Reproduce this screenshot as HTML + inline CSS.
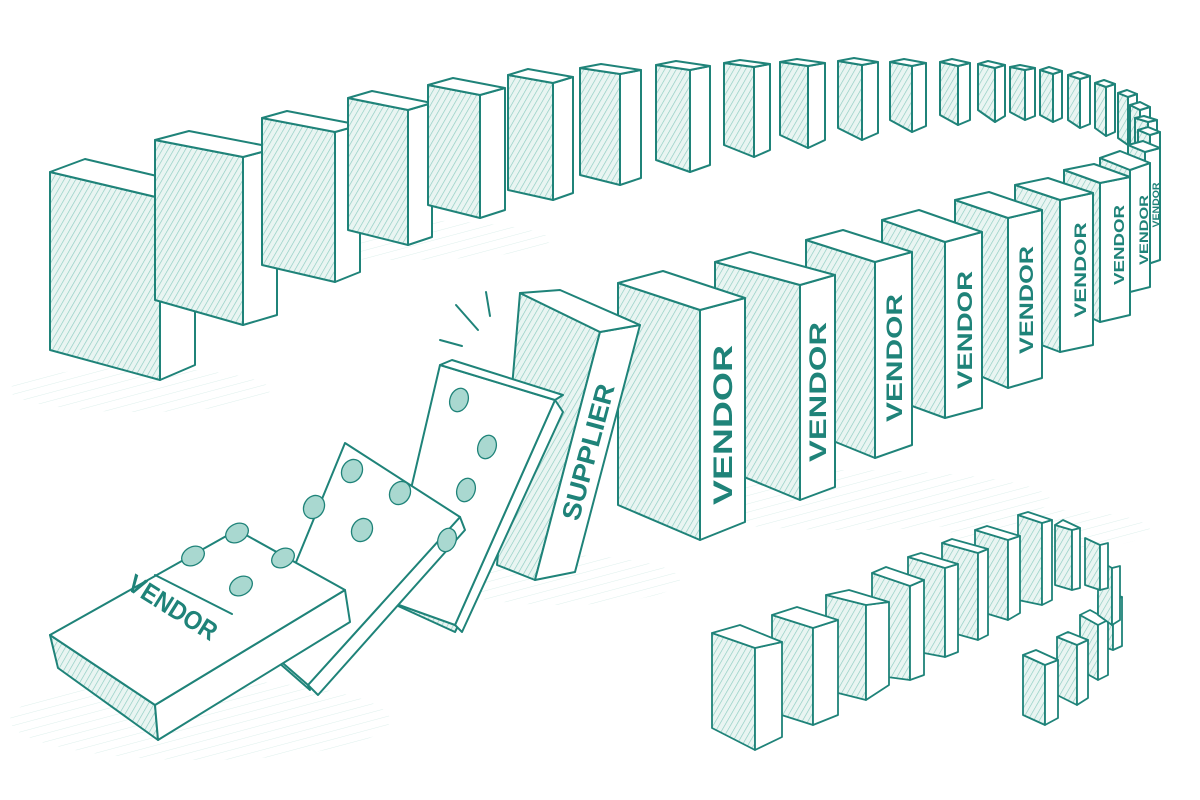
<!DOCTYPE html>
<html><head><meta charset="utf-8"><style>
html,body{margin:0;padding:0;background:#fff;width:1200px;height:800px;overflow:hidden}
svg{display:block}
text{font-family:"Liberation Sans",sans-serif;font-weight:bold;fill:#1f8379}
</style></head><body>
<svg width="1200" height="800" viewBox="0 0 1200 800" xmlns="http://www.w3.org/2000/svg">
<defs>
<pattern id="h" width="5" height="5" patternUnits="userSpaceOnUse" patternTransform="rotate(30)">
<rect width="5" height="5" fill="#e9f5f2"/><line x1="0" y1="0" x2="0" y2="5" stroke="#8ccbc0" stroke-width="1.3"/>
</pattern>
<pattern id="g" width="8" height="8" patternUnits="userSpaceOnUse" patternTransform="rotate(-15)">
<line x1="0" y1="0" x2="8" y2="0" stroke="#cfe9e4" stroke-width="1"/>
</pattern>
</defs>
<g fill="url(#g)" opacity="0.7">
<ellipse cx="140" cy="390" rx="130" ry="22"/>
<ellipse cx="400" cy="240" rx="150" ry="20"/>
<ellipse cx="200" cy="720" rx="190" ry="40"/>
<ellipse cx="560" cy="580" rx="120" ry="25"/>
<ellipse cx="850" cy="500" rx="200" ry="30"/>
<ellipse cx="1050" cy="530" rx="100" ry="20"/>
</g>
<g stroke="#1f8379" stroke-width="2" stroke-linejoin="round">
<g>
<polygon fill="url(#h)" points="50,172 160,198 160,380 50,350"/><polygon fill="#fff" points="160,198 195,185 195,365 160,380"/><polygon fill="#fff" points="50,172 85,159 195,185 160,198"/>
<polygon fill="url(#h)" points="155,140 243,157 243,325 155,300"/><polygon fill="#fff" points="243,157 277,148 277,315 243,325"/><polygon fill="#fff" points="155,140 189,131 277,148 243,157"/>
<polygon fill="url(#h)" points="262,118 335,132 335,282 262,265"/><polygon fill="#fff" points="335,132 360,125 360,272 335,282"/><polygon fill="#fff" points="262,118 287,111 360,125 335,132"/>
<polygon fill="url(#h)" points="348,98 408,110 408,245 348,230"/><polygon fill="#fff" points="408,110 432,103 432,237 408,245"/><polygon fill="#fff" points="348,98 372,91 432,103 408,110"/>
<polygon fill="url(#h)" points="428,85 480,95 480,218 428,205"/><polygon fill="#fff" points="480,95 505,88 505,210 480,218"/><polygon fill="#fff" points="428,85 453,78 505,88 480,95"/>
<polygon fill="url(#h)" points="508,75 553,83 553,200 508,190"/><polygon fill="#fff" points="553,83 573,77 573,193 553,200"/><polygon fill="#fff" points="508,75 528,69 573,77 553,83"/>
<polygon fill="url(#h)" points="580,68 620,74 620,185 580,175"/><polygon fill="#fff" points="620,74 641,70 641,178 620,185"/><polygon fill="#fff" points="580,68 601,64 641,70 620,74"/>
<polygon fill="url(#h)" points="656,65 690,70 690,172 656,160"/><polygon fill="#fff" points="690,70 710,66 710,165 690,172"/><polygon fill="#fff" points="656,65 676,61 710,66 690,70"/>
<polygon fill="url(#h)" points="724,63 754,67 754,157 724,145"/><polygon fill="#fff" points="754,67 770,64 770,150 754,157"/><polygon fill="#fff" points="724,63 740,60 770,64 754,67"/>
<polygon fill="url(#h)" points="780,62 808,66 808,148 780,135"/><polygon fill="#fff" points="808,66 825,63 825,140 808,148"/><polygon fill="#fff" points="780,62 797,59 825,63 808,66"/>
<polygon fill="url(#h)" points="838,61 862,65 862,140 838,128"/><polygon fill="#fff" points="862,65 878,62 878,133 862,140"/><polygon fill="#fff" points="838,61 854,58 878,62 862,65"/>
<polygon fill="url(#h)" points="890,62 912,66 912,132 890,120"/><polygon fill="#fff" points="912,66 926,63 926,126 912,132"/><polygon fill="#fff" points="890,62 904,59 926,63 912,66"/>
<polygon fill="url(#h)" points="940,62 958,66 958,125 940,115"/><polygon fill="#fff" points="958,66 970,63 970,120 958,125"/><polygon fill="#fff" points="940,62 952,59 970,63 958,66"/>
<polygon fill="url(#h)" points="978,64 995,68 995,122 978,110"/><polygon fill="#fff" points="995,68 1005,65 1005,116 995,122"/><polygon fill="#fff" points="978,64 988,61 1005,65 995,68"/>
<polygon fill="url(#h)" points="1010,67 1025,70 1025,120 1010,112"/><polygon fill="#fff" points="1025,70 1035,68 1035,116 1025,120"/><polygon fill="#fff" points="1010,67 1020,65 1035,68 1025,70"/>
<polygon fill="url(#h)" points="1040,70 1053,74 1053,122 1040,115"/><polygon fill="#fff" points="1053,74 1062,71 1062,118 1053,122"/><polygon fill="#fff" points="1040,70 1049,67 1062,71 1053,74"/>
<polygon fill="url(#h)" points="1068,75 1080,79 1080,128 1068,120"/><polygon fill="#fff" points="1080,79 1090,76 1090,124 1080,128"/><polygon fill="#fff" points="1068,75 1078,72 1090,76 1080,79"/>
<polygon fill="url(#h)" points="1095,83 1106,87 1106,136 1095,128"/><polygon fill="#fff" points="1106,87 1115,84 1115,132 1106,136"/><polygon fill="#fff" points="1095,83 1104,80 1115,84 1106,87"/>
<polygon fill="url(#h)" points="1118,93 1128,97 1128,145 1118,138"/><polygon fill="#fff" points="1128,97 1137,94 1137,141 1128,145"/><polygon fill="#fff" points="1118,93 1127,90 1137,94 1128,97"/>
<polygon fill="url(#h)" points="1130,105 1140,110 1140,158 1130,150"/><polygon fill="#fff" points="1140,110 1150,107 1150,155 1140,158"/><polygon fill="#fff" points="1130,105 1140,102 1150,107 1140,110"/>
<polygon fill="url(#h)" points="1135,118 1148,122 1148,170 1135,162"/><polygon fill="#fff" points="1148,122 1157,120 1157,166 1148,170"/><polygon fill="#fff" points="1135,118 1144,116 1157,120 1148,122"/>
<polygon fill="url(#h)" points="1138,130 1150,135 1150,250 1138,240"/><polygon fill="#fff" points="1150,135 1160,132 1160,245 1150,250"/><polygon fill="#fff" points="1138,130 1148,127 1160,132 1150,135"/>
</g>
<polygon fill="url(#h)" points="1128,145 1145,152 1145,265 1128,255"/><polygon fill="#fff" points="1145,152 1160,148 1160,260 1145,265"/><polygon fill="#fff" points="1128,145 1143,141 1160,148 1145,152"/>
<polygon fill="url(#h)" points="1100,158 1130,170 1130,292 1100,280"/><polygon fill="#fff" points="1130,170 1150,163 1150,287 1130,292"/><polygon fill="#fff" points="1100,158 1120,151 1150,163 1130,170"/>
<polygon fill="url(#h)" points="1064,170 1100,183 1100,322 1064,305"/><polygon fill="#fff" points="1100,183 1130,177 1130,315 1100,322"/><polygon fill="#fff" points="1064,170 1094,164 1130,177 1100,183"/>
<polygon fill="url(#h)" points="1015,185 1060,200 1060,352 1015,335"/><polygon fill="#fff" points="1060,200 1093,193 1093,345 1060,352"/><polygon fill="#fff" points="1015,185 1048,178 1093,193 1060,200"/>
<polygon fill="url(#h)" points="955,200 1008,218 1008,388 955,365"/><polygon fill="#fff" points="1008,218 1042,210 1042,378 1008,388"/><polygon fill="#fff" points="955,200 989,192 1042,210 1008,218"/>
<polygon fill="url(#h)" points="882,220 945,242 945,418 882,395"/><polygon fill="#fff" points="945,242 982,232 982,408 945,418"/><polygon fill="#fff" points="882,220 919,210 982,232 945,242"/>
<polygon fill="url(#h)" points="806,240 875,262 875,458 806,430"/><polygon fill="#fff" points="875,262 912,252 912,445 875,458"/><polygon fill="#fff" points="806,240 843,230 912,252 875,262"/>
<polygon fill="url(#h)" points="715,262 800,285 800,500 715,465"/><polygon fill="#fff" points="800,285 835,275 835,487 800,500"/><polygon fill="#fff" points="715,262 750,252 835,275 800,285"/>
<polygon fill="url(#h)" points="618,283 700,310 700,540 618,505"/><polygon fill="#fff" points="700,310 745,298 745,522 700,540"/><polygon fill="#fff" points="618,283 663,271 745,298 700,310"/>
</g>
<g>
<text transform="translate(1156,205) rotate(-90)" font-size="9" text-anchor="middle" textLength="45" lengthAdjust="spacingAndGlyphs" dy="3">VENDOR</text>
<text transform="translate(1144,230) rotate(-90)" font-size="12" text-anchor="middle" textLength="70" lengthAdjust="spacingAndGlyphs" dy="4">VENDOR</text>
<text transform="translate(1119,245) rotate(-90)" font-size="15" text-anchor="middle" textLength="80" lengthAdjust="spacingAndGlyphs" dy="5">VENDOR</text>
<text transform="translate(1080,270) rotate(-90)" font-size="17" text-anchor="middle" textLength="95" lengthAdjust="spacingAndGlyphs" dy="6">VENDOR</text>
<text transform="translate(1026,300) rotate(-90)" font-size="19" text-anchor="middle" textLength="108" lengthAdjust="spacingAndGlyphs" dy="7">VENDOR</text>
<text transform="translate(965,330) rotate(-90)" font-size="21" text-anchor="middle" textLength="118" lengthAdjust="spacingAndGlyphs" dy="7">VENDOR</text>
<text transform="translate(894,358) rotate(-90)" font-size="22" text-anchor="middle" textLength="128" lengthAdjust="spacingAndGlyphs" dy="8">VENDOR</text>
<text transform="translate(818,392) rotate(-90)" font-size="24" text-anchor="middle" textLength="140" lengthAdjust="spacingAndGlyphs" dy="8">VENDOR</text>
<text transform="translate(723,425) rotate(-90)" font-size="27" text-anchor="middle" textLength="160" lengthAdjust="spacingAndGlyphs" dy="9">VENDOR</text>
</g>
<g stroke="#1f8379" stroke-width="2" stroke-linejoin="round" stroke-linecap="round">
<polygon fill="url(#h)" points="520,293 600,332 535,580 497,565"/>
<polygon fill="#fff" points="600,332 640,325 575,572 535,580"/>
<polygon fill="#fff" points="520,293 560,290 640,325 600,332"/>
<polygon fill="url(#h)" points="385,600 455,632 462,618 395,588"/>
<polygon fill="#fff" points="555,400 563,412 462,632 455,625"/>
<polygon fill="#fff" points="440,365 555,400 455,625 385,600"/>
<polygon fill="#fff" points="440,365 452,360 563,395 555,400"/>
<polygon fill="url(#h)" points="270,655 310,690 300,665 262,640"/>
<polygon fill="#fff" points="460,517 465,530 318,695 308,685"/>
<polygon fill="#fff" points="345,443 460,517 308,685 262,645"/>
<polygon fill="url(#h)" points="50,635 155,705 158,740 58,668"/>
<polygon fill="#fff" points="155,705 345,590 350,622 158,740"/>
<polygon fill="#fff" points="50,635 237,530 345,590 155,705"/>
<line x1="155" y1="575" x2="232" y2="614" fill="none"/>
<line x1="440" y1="340" x2="462" y2="346"/><line x1="456" y1="305" x2="478" y2="330"/><line x1="486" y1="292" x2="490" y2="316"/>
</g>
<g fill="#a9d8d0" stroke="#1f8379" stroke-width="1.3">
<ellipse cx="459" cy="400" rx="9" ry="12" transform="rotate(20 459 400)"/>
<ellipse cx="487" cy="447" rx="9" ry="12" transform="rotate(20 487 447)"/>
<ellipse cx="466" cy="490" rx="9" ry="12" transform="rotate(20 466 490)"/>
<ellipse cx="447" cy="540" rx="9" ry="12" transform="rotate(20 447 540)"/>
<ellipse cx="352" cy="471" rx="10" ry="12" transform="rotate(30 352 471)"/>
<ellipse cx="400" cy="493" rx="10" ry="12" transform="rotate(30 400 493)"/>
<ellipse cx="314" cy="507" rx="10" ry="12" transform="rotate(30 314 507)"/>
<ellipse cx="362" cy="530" rx="10" ry="12" transform="rotate(30 362 530)"/>
<ellipse cx="193" cy="556" rx="12" ry="9" transform="rotate(-30 193 556)"/>
<ellipse cx="237" cy="533" rx="12" ry="9" transform="rotate(-30 237 533)"/>
<ellipse cx="283" cy="558" rx="12" ry="9" transform="rotate(-30 283 558)"/>
<ellipse cx="241" cy="586" rx="12" ry="9" transform="rotate(-30 241 586)"/>
</g>
<text transform="translate(168,615) rotate(32)" font-size="26" text-anchor="middle" font-weight="normal" textLength="100" lengthAdjust="spacingAndGlyphs">VENDOR</text>
<text transform="translate(588,452) rotate(-75)" font-size="26" text-anchor="middle" textLength="140" lengthAdjust="spacingAndGlyphs" dy="9">SUPPLIER</text>
<g stroke="#1f8379" stroke-width="1.8" stroke-linejoin="round">
<polygon fill="url(#h)" points="1098,595 1113,600 1113,650 1098,645"/><polygon fill="#fff" points="1113,600 1122,597 1122,646 1113,650"/><polygon fill="#fff" points="1098,595 1107,592 1122,597 1113,600"/>
<polygon fill="url(#h)" points="1080,615 1098,625 1098,680 1080,670"/><polygon fill="#fff" points="1098,625 1108,620 1108,675 1098,680"/><polygon fill="#fff" points="1080,615 1090,610 1108,620 1098,625"/>
<polygon fill="url(#h)" points="1057,637 1077,645 1077,705 1057,695"/><polygon fill="#fff" points="1077,645 1088,640 1088,698 1077,705"/><polygon fill="#fff" points="1057,637 1068,632 1088,640 1077,645"/>
<polygon fill="url(#h)" points="1023,655 1045,665 1045,725 1023,715"/><polygon fill="#fff" points="1045,665 1058,660 1058,718 1045,725"/><polygon fill="#fff" points="1023,655 1036,650 1058,660 1045,665"/>
<polygon fill="url(#h)" points="1098,560 1112,568 1112,625 1098,615"/><polygon fill="#fff" points="1112,568 1120,566 1120,620 1112,625"/>
<polygon fill="url(#h)" points="1085,538 1100,545 1100,590 1085,585"/><polygon fill="#fff" points="1100,545 1108,543 1108,588 1100,590"/>
<polygon fill="url(#h)" points="1055,525 1072,530 1072,590 1055,585"/><polygon fill="#fff" points="1072,530 1080,528 1080,588 1072,590"/><polygon fill="#fff" points="1055,525 1063,520 1080,528 1072,530"/>
<polygon fill="url(#h)" points="1018,515 1042,523 1042,605 1018,600"/><polygon fill="#fff" points="1042,523 1052,520 1052,600 1042,605"/><polygon fill="#fff" points="1018,515 1028,512 1052,520 1042,523"/>
<polygon fill="url(#h)" points="975,530 1008,540 1008,620 975,610"/><polygon fill="#fff" points="1008,540 1020,536 1020,613 1008,620"/><polygon fill="#fff" points="975,530 987,526 1020,536 1008,540"/>
<polygon fill="url(#h)" points="942,543 978,553 978,640 942,630"/><polygon fill="#fff" points="978,553 988,549 988,635 978,640"/><polygon fill="#fff" points="942,543 952,539 988,549 978,553"/>
<polygon fill="url(#h)" points="908,557 945,568 945,657 908,650"/><polygon fill="#fff" points="945,568 958,564 958,652 945,657"/><polygon fill="#fff" points="908,557 921,553 958,564 945,568"/>
<polygon fill="url(#h)" points="872,573 910,586 910,680 872,675"/><polygon fill="#fff" points="910,586 924,580 924,675 910,680"/><polygon fill="#fff" points="872,573 886,567 924,580 910,586"/>
<polygon fill="url(#h)" points="826,595 866,605 866,700 826,690"/><polygon fill="#fff" points="866,605 889,602 889,685 866,700"/><polygon fill="#fff" points="826,595 849,590 889,602 866,605"/>
<polygon fill="url(#h)" points="772,615 813,628 813,725 772,712"/><polygon fill="#fff" points="813,628 838,620 838,715 813,725"/><polygon fill="#fff" points="772,615 797,607 838,620 813,628"/>
<polygon fill="url(#h)" points="712,633 755,648 755,750 712,728"/><polygon fill="#fff" points="755,648 782,642 782,737 755,750"/><polygon fill="#fff" points="712,633 740,625 782,642 755,648"/>
</g>
</svg>
</body></html>
